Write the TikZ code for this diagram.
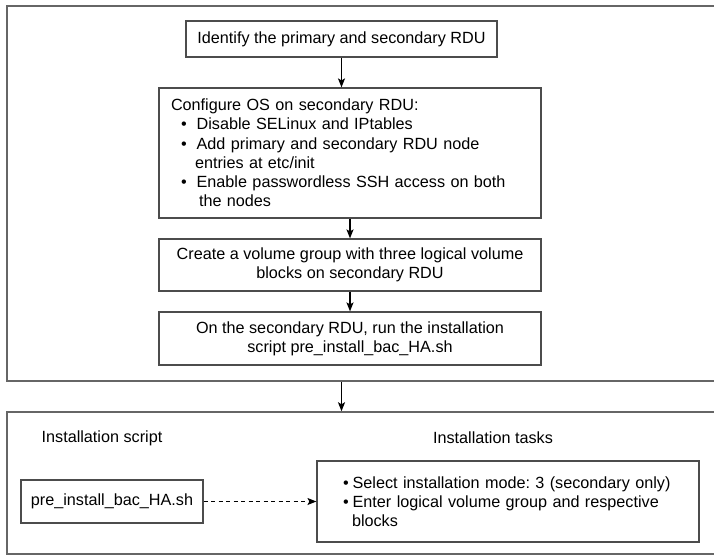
\documentclass[tikz,border=0pt]{standalone}
\usepackage{fontspec}
\setmainfont{Liberation Sans}
\usetikzlibrary{positioning,arrows.meta}
\frenchspacing
\newcommand{\ositem}{\hspace*{10pt}\textbullet\hspace{10pt}}
\newcommand{\taskitem}{\hspace*{6pt}\textbullet\hspace{4pt}}
\begin{document}
\begin{tikzpicture}[->,>={Stealth[length=9pt,width=7pt,inset=2pt]},x=1pt,y=-1pt,line width=1.2pt,
  every node/.style={font=\fontsize{16.2}{19.2}\selectfont},
  step box/.style={rectangle,draw=black!70,minimum width=382pt,align=center},
  frame box/.style={rectangle,draw=black!60,line width=1.5pt}]

  \useasboundingbox (0,0) rectangle (714,556);

  \node[frame box,minimum width=716pt,minimum height=375pt] (topframe) at (365,193.5) {};
  \node[frame box,minimum width=716pt,minimum height=142pt] (bottomframe) at (365,483) {};

  \node[step box,minimum width=311pt,minimum height=36pt] (identify) at (341.5,39)
    {Identify the primary and secondary RDU};
  \node[step box,minimum height=130pt,align=left,inner xsep=12pt,text width=358pt] (configure)
    [below of=identify,node distance=114pt,xshift=8.5pt]
    {Configure OS on secondary RDU:\\
     \ositem Disable SELinux and IPtables\\
     \ositem Add primary and secondary RDU node\\
     \hspace*{24pt}entries at etc/init\\
     \ositem Enable passwordless SSH access on both\\
     \hspace*{28pt}the nodes};
  \node[step box,minimum height=52pt] (createvg) [below of=configure,node distance=112pt]
    {Create a volume group with three logical volume\\blocks on secondary RDU};
  \node[step box,minimum height=53pt] (runscript) [below of=createvg,node distance=73.5pt]
    {On the secondary RDU, run the installation\\script pre\_install\_bac\_HA.sh};

  \node (scriptlabel) at (102,438) {Installation script};
  \node (taskslabel) at (493,438) {Installation tasks};
  \node[step box,minimum width=182pt,minimum height=43pt] (script) at (112,501.5) {pre\_install\_bac\_HA.sh};
  \node[step box,minimum height=81pt,align=left,inner xsep=20pt,text width=342pt] (tasks)
    [right of=script,node distance=396pt]
    {\taskitem Select installation mode: 3 (secondary only)\\
     \taskitem Enter logical volume group and respective\\
     \hspace*{15pt}blocks};

  \draw (identify) -- (identify |- configure.north);
  \draw (configure) -- (createvg);
  \draw (createvg) -- (runscript);
  \draw (topframe.south -| identify) -- (bottomframe.north -| identify);
  \draw[dashed,line width=1pt,dash pattern=on 4pt off 3.5pt] (script) -- (tasks);
\end{tikzpicture}
\end{document}
